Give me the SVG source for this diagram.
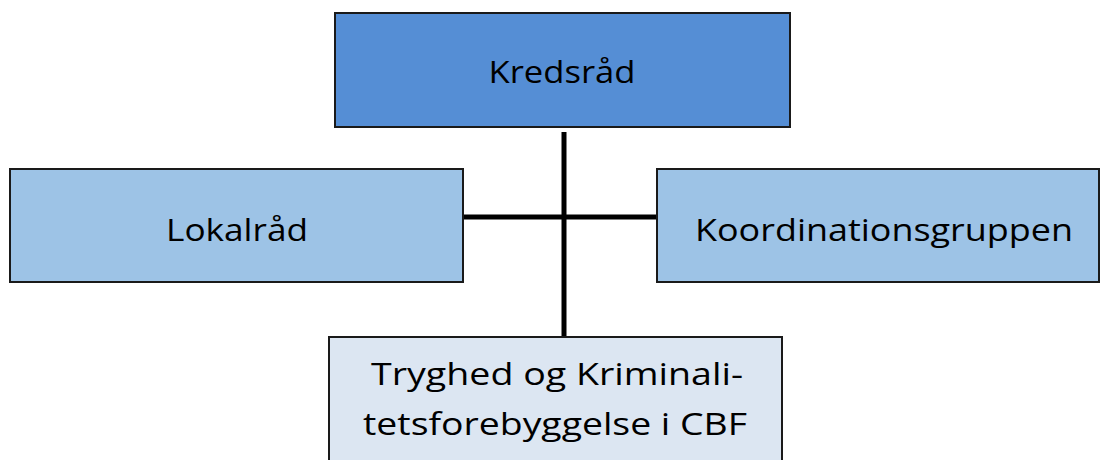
<svg xmlns="http://www.w3.org/2000/svg" width="1101" height="460" viewBox="0 0 1101 460">
<style>
.box{stroke:#1a1a1a;stroke-width:2}
.t{font-family:"Open Sans","Liberation Sans",sans-serif;font-size:31px;fill:#000;text-anchor:middle}
.c{stroke:#000;stroke-width:5;fill:none}
</style>
<rect width="1101" height="460" fill="#fff"/>
<g id="connectors">
<line class="c" x1="564" y1="132" x2="564" y2="337"/>
<line class="c" x1="463" y1="217" x2="657" y2="217"/>
</g>
<g id="kredsraad">
<rect class="box" x="335" y="13" width="455" height="114" fill="#558ED5"/>
<text class="t" x="562" y="83" textLength="147" lengthAdjust="spacingAndGlyphs">Kredsråd</text>
</g>
<g id="lokalraad">
<rect class="box" x="10" y="169" width="453" height="113" fill="#9DC3E6"/>
<text class="t" x="237" y="241" textLength="142" lengthAdjust="spacingAndGlyphs">Lokalråd</text>
</g>
<g id="koordinationsgruppen">
<rect class="box" x="657" y="169" width="442" height="113" fill="#9DC3E6"/>
<text class="t" x="884" y="241" textLength="378" lengthAdjust="spacingAndGlyphs">Koordinationsgruppen</text>
</g>
<g id="tryghed">
<rect class="box" x="329" y="337" width="453" height="130" fill="#DCE6F2"/>
<text class="t" x="557" y="385" textLength="372" lengthAdjust="spacingAndGlyphs">Tryghed og Kriminali-</text>
<text class="t" x="555" y="435" textLength="384" lengthAdjust="spacingAndGlyphs">tetsforebyggelse i CBF</text>
</g>
</svg>
